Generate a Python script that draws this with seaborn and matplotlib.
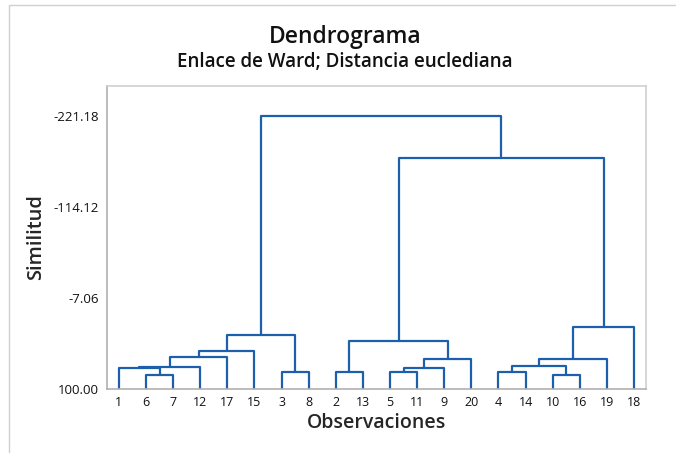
import matplotlib
matplotlib.use("Agg")
import matplotlib.pyplot as plt
import numpy as np
import pandas as pd
import seaborn as sns
from matplotlib.patches import Rectangle

# Orden de las hojas (observaciones) en el eje x
leaf_order = [1, 6, 7, 12, 17, 15, 3, 8, 2, 13, 5, 11, 9, 20, 4, 14, 10, 16, 19, 18]

# Uniones: cluster izquierdo, cluster derecho, similitud (ids nuevos desde 21)
merge_left = [6, 10, 3, 2, 5, 4, 1, 25, 27, 26, 28, 30, 29, 33, 24, 34, 32, 35, 36]
merge_right = [7, 16, 8, 13, 11, 14, 21, 9, 12, 22, 20, 19, 17, 15, 31, 23, 18, 37, 38]
merge_sim = [83.8, 83.8, 79.7, 79.7, 79.7, 79.7, 75.7, 75.3, 73.8, 72.6,
             65.3, 65.3, 62.7, 55.0, 43.9, 36.2, 27.5, -171.2, -221.18]

y_ticks = [100.00, -7.06, -114.12, -221.18]
y_ticklabels = ["100.00", "-7.06", "-114.12", "-221.18"]

line_color = "#1c5fad"

# posiciones y alturas de cada cluster
pos = {leaf: i for i, leaf in enumerate(leaf_order)}
height = {leaf: 100.0 for leaf in leaf_order}
rows = []
for k, (a, b, s) in enumerate(zip(merge_left, merge_right, merge_sim)):
    cid = 21 + k
    xa, xb = pos[a], pos[b]
    pts = [(xa, height[a]), (xa, s), (xb, s), (xb, height[b])]
    for order, (px, py) in enumerate(pts):
        rows.append({"seg": cid, "order": order, "x": px, "y": py})
    pos[cid] = (xa + xb) / 2
    height[cid] = s
segs = pd.DataFrame(rows)

sns.set_style("white")
plt.rcParams["font.family"] = ["Open Sans", "DejaVu Sans"]

fig = plt.figure(figsize=(6.76, 4.53), dpi=100)
ax = fig.add_axes([0.1583, 0.1413, 0.7973, 0.6689])

sns.lineplot(data=segs, x="x", y="y", units="seg", estimator=None, sort=False,
             color=line_color, linewidth=1.6, ax=ax, legend=False)

ax.set_xlim(-0.44, 19.44)
ax.set_ylim(100, -256.2)

ax.set_xticks(range(len(leaf_order)))
ax.set_xticklabels([str(v) for v in leaf_order], fontsize=9)
ax.set_yticks(y_ticks)
ax.set_yticklabels(y_ticklabels, fontsize=9.5)
ax.tick_params(axis="both", direction="out", length=3, width=0.8,
               color="#a0a0a0", pad=2, labelcolor="#111111")
ax.tick_params(axis="y", length=4)

for side in ["top", "right"]:
    ax.spines[side].set_color("#cfcfcf")
    ax.spines[side].set_linewidth(1.2)
for side in ["left", "bottom"]:
    ax.spines[side].set_color("#b0b0b0")
    ax.spines[side].set_linewidth(1.2)

ax.set_xlabel("Observaciones", fontsize=14, fontweight="semibold", labelpad=3)
ax.set_ylabel("Similitud", fontsize=14.5, fontweight="semibold", labelpad=5)

fig.text(0.510, 0.918, "Dendrograma", ha="center", va="center", fontsize=16.5,
         fontweight="semibold", color="#111111")
fig.text(0.510, 0.863, "Enlace de Ward; Distancia euclediana", ha="center",
         va="center", fontsize=13.5, fontweight="semibold", color="#111111")

# marco de la ventana
fig.add_artist(Rectangle((9 / 676, -0.05), 1.2, 1.05 - 5 / 453, transform=fig.transFigure,
                         fill=False, edgecolor="#d0d0d0", linewidth=1.0))

fig.savefig("out.png", dpi=100)
